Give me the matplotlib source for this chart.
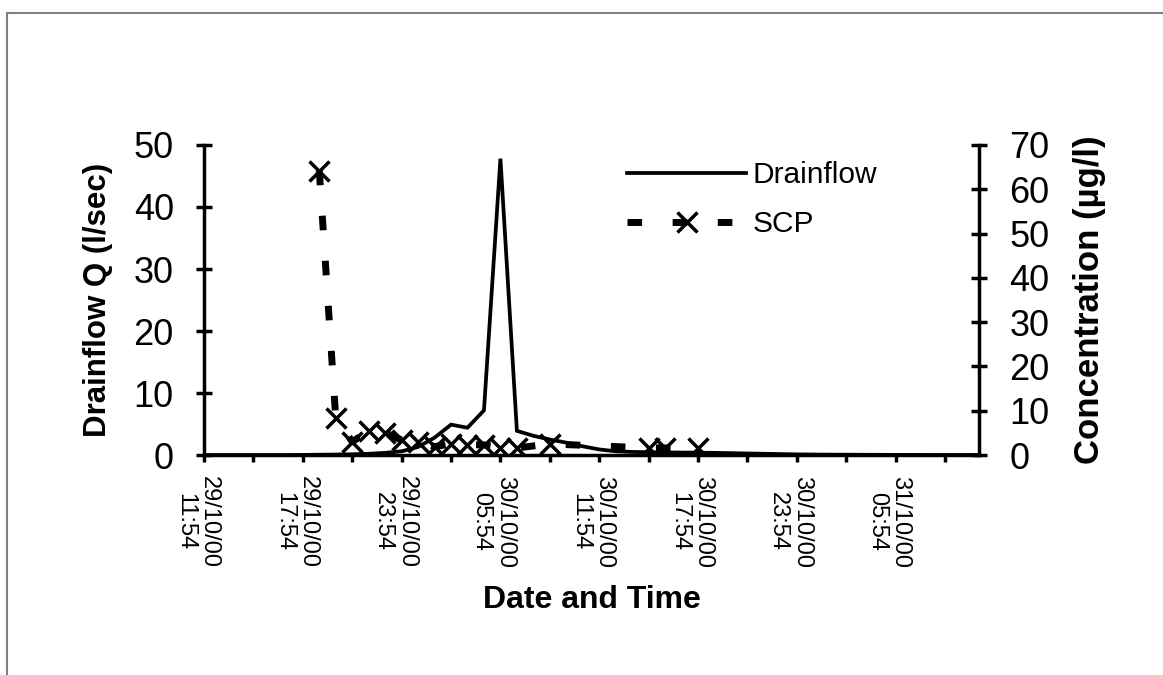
import matplotlib
matplotlib.use('Agg')
import matplotlib.pyplot as plt
import matplotlib.transforms as mtransforms
from matplotlib.lines import Line2D

plt.rcParams['font.family'] = ['Liberation Sans', 'DejaVu Sans']

# hours after 29/10/00 11:54
flow_hours = list(range(0, 48))
drainflow = [0, 0, 0, 0, 0, 0, 0.02, 0.05, 0.08, 0.12, 0.2, 0.35, 0.6, 1.3,
             2.8, 4.9, 4.4, 7.2, 47.8, 3.9, 3.1, 2.5, 2.0, 1.4, 0.9, 0.6,
             0.5, 0.45, 0.42, 0.4, 0.38, 0.35, 0.3, 0.25, 0.2, 0.15, 0.1,
             0.08, 0.06, 0.05, 0.04, 0.03, 0.02, 0.02, 0.01, 0.01, 0.01, 0.01]

scp_hours = [7, 8, 9, 10, 11, 12, 13, 14, 15, 16, 17, 18, 19, 21, 27, 28, 30]
scp = [64.2, 8.4, 3.0, 5.4, 5.0, 3.4, 3.0, 1.9, 2.5, 2.3, 2.3, 1.6, 1.6,
       2.5, 1.6, 1.6, 1.6]

tick_hours = [0, 6, 12, 18, 24, 30, 36, 42]
tick_labels = ['29/10/00\n11:54', '29/10/00\n17:54', '29/10/00\n23:54',
               '30/10/00\n05:54', '30/10/00\n11:54', '30/10/00\n17:54',
               '30/10/00\n23:54', '31/10/00\n05:54']
minor_hours = [3, 9, 15, 21, 27, 33, 39, 45]

fig = plt.figure(figsize=(11.63, 6.75), dpi=100)
ax = fig.add_axes([0.1754, 0.3259, 0.6664, 0.4593])
ax2 = ax.twinx()

lw = 2.5
ax.plot(flow_hours, drainflow, color='black', lw=2.7, solid_joinstyle='miter')
ax2.plot(scp_hours, scp, color='black', lw=5, dashes=(2.1, 4.4),
         dash_capstyle='butt', marker='x', ms=14, mew=2.5)

ax.set_xlim(0, 47.06)
ax.set_ylim(0, 50)
ax2.set_ylim(0, 70)
ax.set_yticks(range(0, 51, 10))
ax2.set_yticks(range(0, 71, 10))
ax.set_xticks(tick_hours)
ax.set_xticklabels(tick_labels, rotation=270, ha='center', va='top',
                   fontsize=17, linespacing=1.1)
ax.set_xticks(minor_hours, minor=True)

for a in (ax, ax2):
    a.spines['top'].set_visible(False)
    for s in ('left', 'right', 'bottom'):
        a.spines[s].set_linewidth(lw)
ax.spines['right'].set_visible(False)
ax2.spines['left'].set_visible(False)
ax2.spines['bottom'].set_visible(False)

ax.tick_params(axis='y', direction='inout', length=11.5, width=lw,
               labelsize=26, pad=16)
ax2.tick_params(axis='y', direction='inout', length=11.5, width=lw,
                labelsize=26, pad=16)
ax.tick_params(axis='x', which='both', direction='out', length=5, width=lw,
               pad=10)

# labels sit slightly left of their ticks (after tick_params, which resets them)
shift = mtransforms.ScaledTranslation(-7 / 100, 0, fig.dpi_scale_trans)
for lab in ax.get_xticklabels():
    lab.set_transform(lab.get_transform() + shift)

ax.set_xlabel('Date and Time', fontsize=23, fontweight='bold', labelpad=12)
ax.set_ylabel('Drainflow Q (l/sec)', fontsize=22.5, fontweight='bold',
              labelpad=15)
ax2.set_ylabel('Concentration (µg/l)', fontsize=25, fontweight='bold',
               rotation=90, labelpad=17)

handles = [Line2D([], [], color='black', lw=2.7),
           Line2D([], [], color='black', lw=5, dashes=(2.1, 4.4),
                  dash_capstyle='butt', marker='x', ms=14, mew=2.5)]
fig.legend(handles, ['Drainflow', 'SCP'], loc='upper left',
           bbox_to_anchor=(0.539, 0.7615), frameon=False, fontsize=21.5,
           handlelength=4.0, handletextpad=0.2, labelspacing=0.72,
           borderpad=0, borderaxespad=0)

# grey outer frame (cropped chart border)
fig.add_artist(Line2D([0.006, 1.0], [0.981, 0.981], color='#808080', lw=1.5,
                      transform=fig.transFigure))
fig.add_artist(Line2D([0.006, 0.006], [0.0, 0.981], color='#808080', lw=1.5,
                      transform=fig.transFigure))

fig.savefig('out.png', dpi=100)
